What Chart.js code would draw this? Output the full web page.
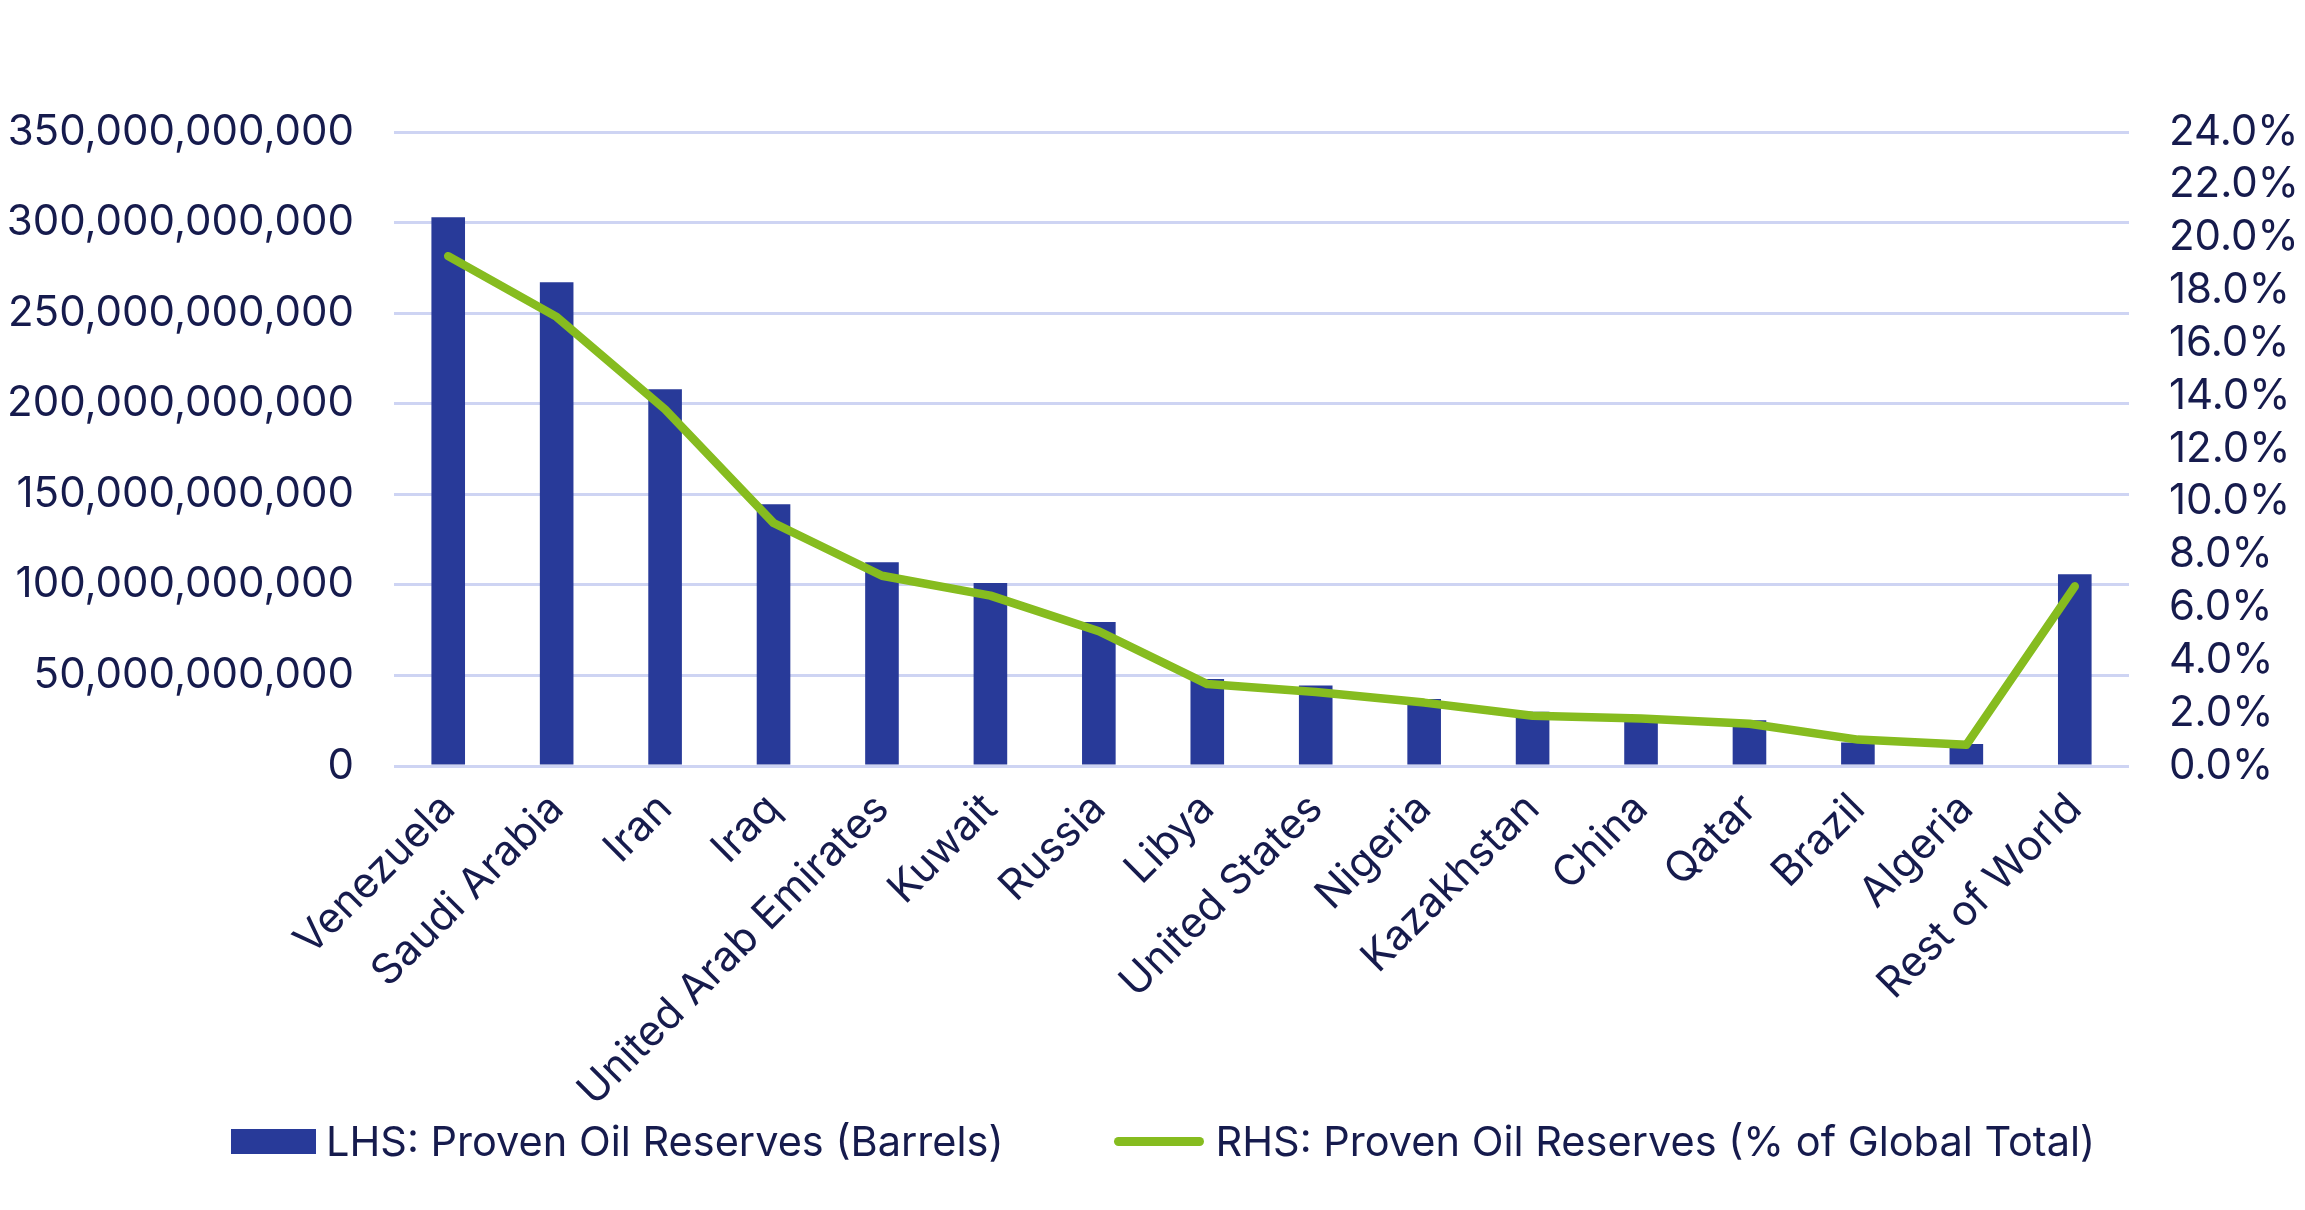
<!DOCTYPE html>
<html lang="en">
<head>
    <meta charset="UTF-8">
    <title>Proven Oil Reserves</title>
    <style>
        body {
            margin: 0;
            background: #ffffff;
            font-family: Inter, sans-serif;
        }
        #chartBox {
            position: relative;
            width: 2305px;
            height: 1210px;
        }
        #legend {
            position: absolute;
            left: 231px;
            top: 1141px;
            transform: translateY(-50%);
            display: flex;
            align-items: center;
            font-size: 41.5px;
            color: #161b4d;
            white-space: nowrap;
        }
        .legend-item {
            display: flex;
            align-items: center;
        }
        .legend-item + .legend-item {
            margin-left: 110px;
        }
        .swatch-bar {
            width: 85px;
            height: 25px;
            margin-right: 10px;
        }
        .swatch-line {
            width: 90px;
            height: 9px;
            border-radius: 5px;
            margin-right: 12px;
        }
    </style>
    <script src="https://cdn.jsdelivr.net/npm/chart.js"></script>
</head>
<body>
    <div id="chartBox">
        <canvas id="reservesChart" width="2305" height="1210"></canvas>
        <div id="legend"></div>
    </div>
    <script>
        const countries = ['Venezuela', 'Saudi Arabia', 'Iran', 'Iraq', 'United Arab Emirates', 'Kuwait', 'Russia',
            'Libya', 'United States', 'Nigeria', 'Kazakhstan', 'China', 'Qatar', 'Brazil', 'Algeria', 'Rest of World'];

        // LHS: barrels
        const reservesBarrels = [303e9, 267e9, 208e9, 144.5e9, 112.5e9, 101e9, 79.5e9, 48e9,
            44.4e9, 37e9, 30e9, 26e9, 25.2e9, 13e9, 12.1e9, 105.8e9];

        // RHS: percent of global total
        const reservesShare = [19.3, 17.0, 13.5, 9.2, 7.2, 6.45, 5.1, 3.1, 2.8, 2.4, 1.9, 1.8, 1.6, 1.0, 0.8, 6.8];

        const barLabel = 'LHS: Proven Oil Reserves (Barrels)';
        const lineLabel = 'RHS: Proven Oil Reserves (% of Global Total)';

        const navy = '#283a99';
        const green = '#86bc1f';
        const textColor = '#161b4d';
        const gridColor = '#ced4f3';

        Chart.defaults.font.family = 'Inter, sans-serif';
        Chart.defaults.font.size = 42;
        Chart.defaults.color = textColor;

        const ctx = document.getElementById('reservesChart').getContext('2d');
        const reservesChart = new Chart(ctx, {
            type: 'bar',
            data: {
                labels: countries,
                datasets: [{
                    label: barLabel,
                    data: reservesBarrels,
                    backgroundColor: navy,
                    yAxisID: 'y',
                    barPercentage: 0.31,
                    categoryPercentage: 1,
                    order: 1
                }, {
                    type: 'line',
                    label: lineLabel,
                    data: reservesShare,
                    borderColor: green,
                    backgroundColor: green,
                    borderWidth: 8.5,
                    borderCapStyle: 'round',
                    borderJoinStyle: 'round',
                    pointRadius: 0,
                    tension: 0,
                    yAxisID: 'y1',
                    order: 0
                }]
            },
            options: {
                responsive: false,
                animation: false,
                devicePixelRatio: 1,
                layout: {
                    padding: { top: 132, left: 0, right: 0, bottom: 94 }
                },
                plugins: {
                    tooltip: { enabled: false },
                    legend: { display: false }
                },
                scales: {
                    x: {
                        grid: { display: false, drawTicks: false },
                        border: { display: false },
                        ticks: {
                            minRotation: 45,
                            maxRotation: 45,
                            padding: 18,
                            autoSkip: false
                        },
                        afterFit: (scale) => { scale.height = 350; }
                    },
                    y: {
                        position: 'left',
                        min: 0,
                        max: 350e9,
                        grid: { color: gridColor, lineWidth: 3, drawTicks: false },
                        border: { display: false },
                        ticks: {
                            stepSize: 50e9,
                            padding: 40,
                            autoSkip: false,
                            callback: (v) => v.toLocaleString('en-US')
                        },
                        afterFit: (scale) => { scale.width = 394; }
                    },
                    y1: {
                        position: 'right',
                        min: 0,
                        max: 24,
                        grid: { display: false, drawTicks: false },
                        border: { display: false },
                        ticks: {
                            stepSize: 2,
                            padding: 40,
                            autoSkip: false,
                            callback: (v) => v.toFixed(1) + '%'
                        },
                        afterFit: (scale) => { scale.width = 176; }
                    }
                }
            }
        });

        // HTML legend under the axis labels, built from the dataset styles
        const legendEl = document.getElementById('legend');
        legendEl.innerHTML =
            `<span class="legend-item"><span class="swatch-bar" style="background:${navy}"></span>${barLabel}</span>` +
            `<span class="legend-item"><span class="swatch-line" style="background:${green}"></span>${lineLabel}</span>`;
    </script>
</body>
</html>
